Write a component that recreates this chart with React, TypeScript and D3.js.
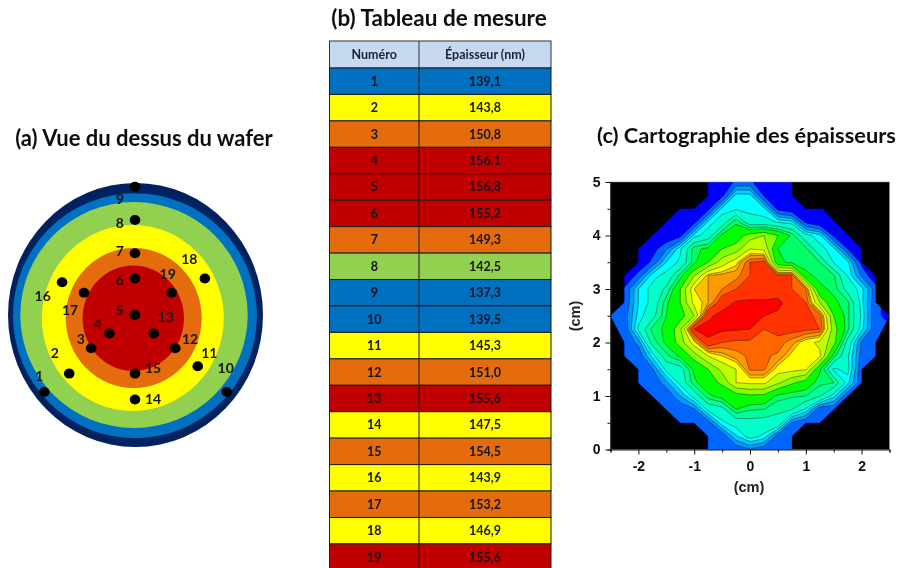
import React, { useEffect, useRef } from "react";
import * as d3 from "d3";

const pointIds = d3.range(1, 20);
const thickness = [139.1,143.8,150.8,156.1,156.8,155.2,149.3,142.5,137.3,139.5,145.3,151.0,155.6,147.5,154.5,143.9,153.2,146.9,155.6];
const thicknessText = ["139,1","143,8","150,8","156,1","156,8","155,2","149,3","142,5","137,3","139,5","145,3","151,0","155,6","147,5","154,5","143,9","153,2","146,9","155,6"];
const waferX = [-1.78,-1.29,-.86,-.50,0,0,0,0,0,1.80,1.23,.79,.37,0,0,-1.43,-1.00,1.37,.72];
const waferY = [-1.46,-1.11,-.63,-.35,0,.69,1.17,1.80,2.43,-1.46,-.97,-.63,-.35,-1.60,-1.11,.62,.42,.69,.42];
const labelX = [39.3,54.7,80.7,97.7,119.7,119.7,119.7,119.7,120,225.7,209.3,190,165.7,153,153,42.7,70,189.3,167.7];
const labelY = [375.7,353,339,323.7,310,280,250.7,222.7,199.3,368,353,339,316.7,398.7,368,296,310.3,259.3,273.7];
const ringColors = ["#002060","#006fc0","#92d050","#ffff00","#e46c0a","#c00000"];
const ringRx = [127.5,122,113.7,91,68,50.7];
const ringRy = [132,122.5,113,93,70,52.7];
const ringCx = [135.5,135,134,132.8,133.7,133.3];
const ringCy = [315,315.7,315,318,318,318.3];
const classLimits = [140,143,148,155];
const classColors = ["#006fc0","#92d050","#ffff00","#e46c0a","#c00000"];

// thickness map, sampled every 0.25 cm (rows y=5 → 0, columns x=-2.5 → 2.5), in contour level units
const mapGrid = [
[0,0,0,0,0,0,0,0,0,1,1,0,0,0,0,0,0,0,0,0,0],
[0,0,0,0,0,0,0,0,.5,3,3,.7,0,0,0,0,0,0,0,0,0],
[0,0,0,0,0,0,0,.5,3,3.2,3.2,3,.5,0,0,0,0,0,0,0,0],
[0,0,0,0,0,0,.5,3,3.8,5.7,3.6,3.6,3.3,3,.6,0,0,0,0,0,0],
[0,0,0,0,0,.5,3,3.8,6,6.3,7.5,8,7,5.6,3.6,3,.6,0,0,0,0],
[0,0,0,.4,1.5,3.2,5.6,6,7,7.5,9,8.8,5.8,5.6,5.4,3.6,3,.8,0,0,0],
[0,0,0,1,2.8,3.5,5.6,7,8.5,9.5,11,11.2,6,5.6,5.5,5.2,3.3,3,.5,0,0],
[0,0,1.1,3.1,3.6,5.4,8,10,10.2,10.3,11,11,11,11,6,5.6,5.3,3.3,1.5,0,0],
[1,.9,2.8,3.6,4.6,7,9.7,10,10.5,11,11.2,11.2,11.3,11,10.5,6,5.6,4,3,1.2,.5],
[1,1,2.8,3.6,5.6,7,9.3,10,11.5,12.1,12.2,12.2,12.3,11.4,11,8,6,5.4,3,1,.5],
[.95,1.2,3,4,5.8,6.5,8,11.8,12.3,12.4,12.4,12,11.8,11.5,11.2,10.8,7,5.4,3.2,1,.5],
[1,1,3.5,5.4,6,7.8,12,12.3,12.2,12.1,12,11,11.2,11.3,11.2,11,7.5,5.4,3,1,1],
[1,1,1.8,4.8,6,7.5,9.5,11.8,11,10.8,10.8,10.9,10.8,10.2,9.3,8.8,7.4,4,1.5,1,1],
[1,1,1,3,5,6,7.5,9,9.7,10.3,10.6,10.6,10.4,9.5,9.3,9.2,5.5,3.5,1.3,1,1],
[1,1,1,1.5,3.6,3.9,6,7,8.3,9,10.6,10.6,9.4,9.3,9.1,6,3.2,3.6,1,1,1],
[1,1,1,1,2,3.6,5.6,6.5,7.2,9,9.2,9.2,8.2,7.2,6.5,5.4,5.2,3,1,1,1],
[1,1,1,1,1,2.2,3.7,5.6,6.2,6.5,6.8,6.7,5.6,5.3,5.2,4.5,3,1,1,1,1],
[1,1,1,1,1,1,1.5,3.6,4,5.8,5.3,5.2,4.5,4.4,3.2,1,1,1,1,1,1],
[1,1,1,1,1,1,1,1.2,3.2,3.7,4,3.9,4.2,1.5,1,1,1,1,1,1,1],
[1,1,1,1,1,1,1,1,1,2.7,3.7,3.2,1.2,1,1,1,1,1,1,1,1],
[1,1,1,1,1,1,1,1,1,1.1,1.5,1.1,1,1,1,1,1,1,1,1,1],
];
const levels = [-1,.8,1.6,2.2,2.8,3.35,4.4,5.2,5.8,7,8,9,9.7,10,10.5,11,12];
const levelColors = ["#0000ff","#0066ff","#0099ff","#00ccff","#00ffff","#00ffcc","#00ff99","#00ff66","#00ff00","#80ff00","#c0ff00","#ffff00","#ffc000","#ff9900","#ff6600","#ff3300","#ff0000"];
const outlineX = [-.75,.75,.75,1,1.3,2,2,2.25,2.25,2.5,2.25,2.25,2,2,1.25,1,.75,.75,-.75,-.75,-1,-1.25,-2,-2,-2.25,-2.25,-2.5,-2.25,-2.25,-2,-2,-1.25,-1,-.75];
const outlineY = [5,5,4.75,4.5,4.5,3.75,3.5,3.25,2.75,2.5,2,1.75,1.5,1.25,.5,.5,.25,0,0,.25,.5,.5,1.25,1.5,1.75,2,2.5,2.75,3.25,3.5,3.75,4.5,4.5,4.75];

const F = "Lato, sans-serif";
const AX = "'Liberation Sans', Arial, sans-serif";

export default function App() {
  const xRef = useRef<SVGGElement>(null);
  const yRef = useRef<SVGGElement>(null);
  const x = d3.scaleLinear().domain([-2.5, 2.5]).range([610.5, 889.5]);
  const y = d3.scaleLinear().domain([0, 5]).range([449.5, 182]);
  const wx = d3.scaleLinear().domain([-2.5, 2.5]).range([7.5, 262.5]);
  const wy = d3.scaleLinear().domain([-2.5, 2.5]).range([447, 183]);
  const cls = d3.scaleThreshold<number, string>().domain(classLimits).range(classColors);
  const headH = 27, rowH = 26.44, tTop = 41, tL = 329.5, tM = 419, tR = 551;
  const rowY = d3.scaleLinear().domain([0, 19]).range([tTop + headH, tTop + headH + 19 * rowH]);

  const flat = mapGrid.flat();
  const contours = d3.contours().size([21, 21]).smooth(true).thresholds(levels)(flat);
  const cx = (c: number) => x(-2.5 + (c - 0.5) * 0.25);
  const cy = (r: number) => y(5 - (r - 0.5) * 0.25);
  const toPath = (g: any) =>
    g.coordinates.map((poly: number[][][]) =>
      poly.map((ring) => "M" + ring.map(([a, b]) => `${cx(a).toFixed(2)},${cy(b).toFixed(2)}`).join("L") + "Z").join("")
    ).join("");
  const outline = d3.line<number>().x((i) => x(outlineX[i])).y((i) => y(outlineY[i])).curve(d3.curveLinearClosed)(d3.range(outlineX.length)) as string;

  useEffect(() => {
    document.body.style.margin = "0";
    const style = (g: any) => {
      g.attr("font-family", AX).attr("font-weight", "bold").attr("font-size", 14).attr("color", "#111");
      g.selectAll("path,line").attr("stroke-width", 1);
    };
    const xAxis = d3.axisBottom(x).tickValues(d3.range(-2.5, 2.51, 0.5)).tickSize(3)
      .tickFormat((d: any) => (Number.isInteger(d) ? d3.format("d")(d).replace("−", "-") : ""));
    const gx = d3.select(xRef.current as SVGGElement).call(xAxis as any).call(style);
    gx.selectAll(".tick").filter((d: any) => Number.isInteger(d)).select("line").attr("y2", 5);
    gx.selectAll("text").attr("y", 9).attr("dy", "0.9em");
    const yAxis = d3.axisLeft(y).tickValues(d3.range(0, 5.01, 0.5)).tickSize(3)
      .tickFormat((d: any) => (Number.isInteger(d) ? String(d) : ""));
    const gy = d3.select(yRef.current as SVGGElement).call(yAxis as any).call(style);
    gy.selectAll(".tick").filter((d: any) => Number.isInteger(d)).select("line").attr("x2", -5);
    gy.selectAll("text").attr("x", -10);
  }, []);

  return (
    <svg width={899} height={568} style={{ position: "fixed", left: 0, top: 0, background: "#fff" }}>
      <defs>
        <clipPath id="wafer-clip"><path d={outline} /></clipPath>
        <filter id="soft" x="-5%" y="-5%" width="110%" height="110%"><feGaussianBlur stdDeviation="0.3" /></filter>
      </defs>
      <g filter="url(#soft)">
        {/* (a) */}
        <text x={144} y={146} textAnchor="middle" fontFamily={F} fontWeight={700} fontSize={22} fill="#111">(a) Vue du dessus du wafer</text>
        {ringColors.map((c, i) => <ellipse key={i} cx={ringCx[i]} cy={ringCy[i]} rx={ringRx[i]} ry={ringRy[i]} fill={c} />)}
        {pointIds.map((id, i) => <ellipse key={id} cx={wx(waferX[i])} cy={wy(waferY[i])} rx={5.3} ry={5} fill="#000" />)}
        {pointIds.map((id, i) => (
          <text key={id} x={labelX[i]} y={labelY[i]} dy="0.36em" textAnchor="middle" fontFamily={F} fontWeight={700} fontSize={14} fill="#151515">{id}</text>
        ))}

        {/* (b) */}
        <text x={439} y={26} textAnchor="middle" fontFamily={F} fontWeight={700} fontSize={22.5} fill="#111">(b) Tableau de mesure</text>
        <rect x={tL} y={tTop} width={tR - tL} height={headH} fill="#c6d9f1" stroke="#333" />
        <line x1={tM} x2={tM} y1={tTop} y2={tTop + headH} stroke="#333" />
        <text x={(tL + tM) / 2} y={tTop + headH / 2} dy="0.36em" textAnchor="middle" fontFamily={F} fontWeight={700} fontSize={12.5} fill="#1a2433">Numéro</text>
        <text x={(tM + tR) / 2} y={tTop + headH / 2} dy="0.36em" textAnchor="middle" fontFamily={F} fontWeight={700} fontSize={12.5} fill="#1a2433">Épaisseur (nm)</text>
        {pointIds.map((id, i) => (
          <g key={id}>
            <rect x={tL} y={rowY(i)} width={tR - tL} height={rowH} fill={cls(thickness[i])} stroke="#1a1a1a" />
            <line x1={tM} x2={tM} y1={rowY(i)} y2={rowY(i + 1)} stroke="#1a1a1a" />
            <text x={(tL + tM) / 2} y={rowY(i + 0.5)} dy="0.36em" textAnchor="middle" fontFamily={F} fontWeight={700} fontSize={12.5} fill="#14141f">{id}</text>
            <text x={(tM + tR) / 2} y={rowY(i + 0.5)} dy="0.36em" textAnchor="middle" fontFamily={F} fontWeight={700} fontSize={12.5} fill="#14141f">{thicknessText[i]}</text>
          </g>
        ))}

        {/* (c) */}
        <text x={746.5} y={143} textAnchor="middle" fontFamily={F} fontWeight={700} fontSize={21.8} fill="#111">(c) Cartographie des épaisseurs</text>
        <rect x={x(-2.5)} y={y(5)} width={x(2.5) - x(-2.5)} height={y(0) - y(5)} fill="#000" />
        <g clipPath="url(#wafer-clip)">
          {contours.map((c, i) => (
            <path key={i} d={toPath(c)} fill={levelColors[i]} stroke={i === 0 ? "none" : "#1a1a1a"} strokeWidth={0.45} />
          ))}
        </g>
        <rect x={x(-2.5)} y={y(5)} width={x(2.5) - x(-2.5)} height={y(0) - y(5)} fill="none" stroke="#888" strokeWidth={0.6} />
        <g ref={xRef} transform={`translate(0,${y(0)})`} />
        <g ref={yRef} transform={`translate(${x(-2.5)},0)`} />
        <text x={749} y={491.5} textAnchor="middle" fontFamily={AX} fontWeight={700} fontSize={14.5} fill="#222">(cm)</text>
        <text transform="translate(580,316) rotate(-90)" textAnchor="middle" fontFamily={AX} fontWeight={700} fontSize={14.5} fill="#222">(cm)</text>
      </g>
    </svg>
  );
}
